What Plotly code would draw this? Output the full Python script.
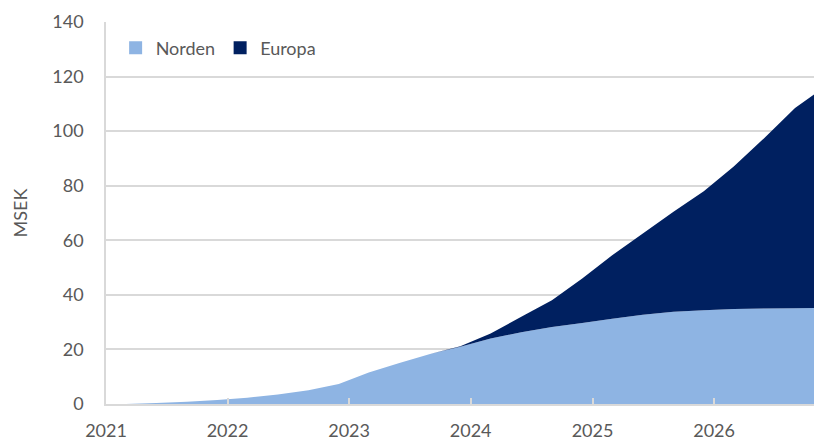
import plotly.graph_objects as go

dates = ["2021-03-01", "2021-06-01", "2021-09-01", "2021-12-01",
         "2022-03-01", "2022-06-01", "2022-09-01", "2022-12-01",
         "2023-03-01", "2023-06-01", "2023-09-01", "2023-12-01",
         "2024-03-01", "2024-06-01", "2024-09-01", "2024-12-01",
         "2025-03-01", "2025-06-01", "2025-09-01", "2025-12-01",
         "2026-03-01", "2026-06-01", "2026-09-01", "2026-11-01"]

norden = [0.0, 0.4, 0.8, 1.5,
          2.3, 3.5, 5.0, 7.3,
          11.5, 15.0, 18.3, 21.0,
          24.0, 26.3, 28.2, 29.7,
          31.2, 32.7, 33.8, 34.4,
          34.8, 35.0, 35.1, 35.2]

europa = [0.0, 0.0, 0.0, 0.0,
          0.0, 0.0, 0.0, 0.0,
          0.0, 0.0, 0.0, 0.2,
          1.8, 5.7, 9.8, 16.3,
          23.3, 29.8, 36.7, 43.6,
          52.2, 62.5, 73.4, 78.6]

year_ticks = ["2021-01-01", "2022-01-01", "2023-01-01",
              "2024-01-01", "2025-01-01", "2026-01-01"]
year_labels = ["2021", "2022", "2023", "2024", "2025", "2026"]

series_names = ["Norden", "Europa"]
series_colors = ["#8EB4E3", "#002060"]

font_family = "Lato, Open Sans, sans-serif"
text_color = "#595959"
fs = 18

fig = go.Figure()
for name, vals, col in zip(series_names, [norden, europa], series_colors):
    fig.add_trace(go.Scatter(
        x=dates, y=vals, name=name, stackgroup="one",
        mode="none", fillcolor=col, line=dict(width=0), showlegend=False,
        hoverinfo="skip"))
# legend entries with square swatches
for name, col in zip(series_names, series_colors):
    fig.add_trace(go.Scatter(
        x=[None], y=[None], name=name, mode="markers",
        marker=dict(symbol="square", size=13, color=col), showlegend=True))

fig.update_layout(
    width=814, height=439,
    margin=dict(l=106, r=0, t=22, b=35, autoexpand=False),
    paper_bgcolor="white", plot_bgcolor="white",
    font=dict(family=font_family, size=fs, color=text_color),
    showlegend=True,
    legend=dict(orientation="h", x=0.0136, y=0.932, xanchor="left", yanchor="middle",
                bgcolor="rgba(0,0,0,0)", font=dict(size=fs, color=text_color),
                itemwidth=30, traceorder="normal"),
    xaxis=dict(type="date", range=["2021-01-01", "2026-10-28"],
               tickmode="array", tickvals=year_ticks, ticktext=year_labels,
               showgrid=False, showline=True, linecolor="#D9D9D9", linewidth=1.5,
               ticks="inside", ticklen=6, tickcolor="#D9D9D9", tickwidth=1.5,
               ticklabelstandoff=10, tickfont=dict(size=fs, color=text_color),
               zeroline=False, layer="above traces", automargin=False),
    yaxis=dict(range=[0, 140], dtick=20, tick0=0,
               showgrid=True, gridcolor="#D9D9D9", gridwidth=1.5,
               showline=True, linecolor="#D9D9D9", linewidth=1.5,
               ticks="", ticklabelstandoff=17,
               tickfont=dict(size=fs, color=text_color),
               title=dict(text="MSEK", font=dict(size=fs, color=text_color), standoff=20),
               zeroline=False, automargin=False),
)

fig.write_html("out.html",
               config={"displayModeBar": False},
               post_script="document.body.style.margin='0';document.body.style.overflow='hidden';")
